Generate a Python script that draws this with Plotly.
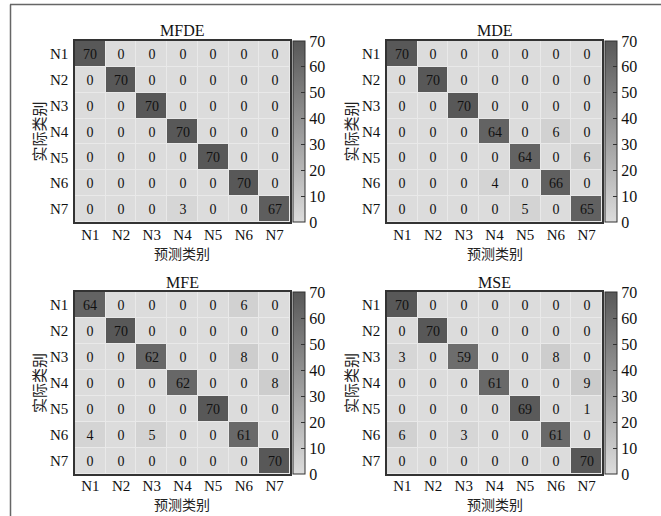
import plotly.graph_objects as go

W, H = 661, 516

labels = ["N1", "N2", "N3", "N4", "N5", "N6", "N7"]

mfde = [
    [70, 0, 0, 0, 0, 0, 0],
    [0, 70, 0, 0, 0, 0, 0],
    [0, 0, 70, 0, 0, 0, 0],
    [0, 0, 0, 70, 0, 0, 0],
    [0, 0, 0, 0, 70, 0, 0],
    [0, 0, 0, 0, 0, 70, 0],
    [0, 0, 0, 3, 0, 0, 67],
]
mde = [
    [70, 0, 0, 0, 0, 0, 0],
    [0, 70, 0, 0, 0, 0, 0],
    [0, 0, 70, 0, 0, 0, 0],
    [0, 0, 0, 64, 0, 6, 0],
    [0, 0, 0, 0, 64, 0, 6],
    [0, 0, 0, 4, 0, 66, 0],
    [0, 0, 0, 0, 5, 0, 65],
]
mfe = [
    [64, 0, 0, 0, 0, 6, 0],
    [0, 70, 0, 0, 0, 0, 0],
    [0, 0, 62, 0, 0, 8, 0],
    [0, 0, 0, 62, 0, 0, 8],
    [0, 0, 0, 0, 70, 0, 0],
    [4, 0, 5, 0, 0, 61, 0],
    [0, 0, 0, 0, 0, 0, 70],
]
mse = [
    [70, 0, 0, 0, 0, 0, 0],
    [0, 70, 0, 0, 0, 0, 0],
    [3, 0, 59, 0, 0, 8, 0],
    [0, 0, 0, 61, 0, 0, 9],
    [0, 0, 0, 0, 69, 0, 1],
    [6, 0, 3, 0, 0, 61, 0],
    [0, 0, 0, 0, 0, 0, 70],
]
titles = ["MFDE", "MDE", "MFE", "MSE"]
matrices = [mfde, mde, mfe, mse]
cbar_ticks = [0, 10, 20, 30, 40, 50, 60, 70]

# pixel boxes (left, right, top, bottom) of each heatmap
boxes = [
    (75, 290, 41, 222),
    (387, 602, 41, 222),
    (75, 290, 292, 474),
    (387, 602, 292, 474),
]

SERIF = "Liberation Serif, Times New Roman, Noto Sans CJK SC, serif"
CJK = "Noto Sans CJK SC, Liberation Serif, serif"
scale = [[0, "rgb(220,220,220)"], [1, "rgb(88,88,88)"]]

fig = go.Figure()
annotations = []
shapes = []

for i, (t, m, (l, r, tp, b)) in enumerate(zip(titles, matrices, boxes)):
    n = "" if i == 0 else str(i + 1)
    bottom_row = i >= 2
    xd = [l / W, r / W]
    yd = [1 - b / H, 1 - tp / H]
    fig.add_trace(go.Heatmap(
        z=m, x=labels, y=labels,
        xaxis="x" + n, yaxis="y" + n,
        colorscale=scale, zmin=0, zmax=70,
        xgap=1, ygap=1,
        texttemplate="%{z}",
        textfont=dict(family=SERIF, size=14, color="#111"),
        hoverinfo="skip",
        colorbar=dict(
            x=(r + 3) / W, xanchor="left", xpad=0,
            y=1 - (tp + b) / 2 / H, yanchor="middle", ypad=0,
            len=(b - tp) / H, lenmode="fraction",
            thickness=12, thicknessmode="pixels",
            outlinewidth=1, outlinecolor="#333",
            tickvals=cbar_ticks, ticks="inside", ticklen=4,
            tickcolor="#333",
            tickfont=dict(family=SERIF, size=16, color="#111"),
        ),
    ))
    ax = dict(
        domain=xd, anchor="y" + n, showgrid=False, zeroline=False,
        showline=True, linecolor="#333", linewidth=1.5, mirror=True,
        ticks="", ticklabelstandoff=(-3 if bottom_row else -2),
        tickfont=dict(family=SERIF, size=15, color="#111"),
        fixedrange=True,
    )
    ay = dict(
        domain=yd, anchor="x" + n, showgrid=False, zeroline=False,
        showline=True, linecolor="#333", linewidth=1.5, mirror=True,
        ticks="outside", ticklen=2, tickcolor="rgba(0,0,0,0)",
        autorange="reversed",
        tickfont=dict(family=SERIF, size=15, color="#111"),
        fixedrange=True,
    )
    fig.layout["xaxis" + n] = ax
    fig.layout["yaxis" + n] = ay

    cx = (l + r) / 2
    annotations.append(dict(
        text=t, x=cx / W, y=1 - (tp - 10) / H, xref="paper", yref="paper",
        xanchor="center", yanchor="middle", showarrow=False,
        font=dict(family=SERIF, size=16, color="#111"),
    ))
    if bottom_row:
        xt_y, xt_anchor = 1 - 515 / H, "bottom"
    else:
        xt_y, xt_anchor = 1 - (b + 20) / H, "top"
    annotations.append(dict(
        text="预测类别", x=cx / W, y=xt_y, xref="paper", yref="paper",
        xanchor="center", yanchor=xt_anchor, showarrow=False, borderpad=0,
        font=dict(family=CJK, size=14, color="#222"),
    ))
    annotations.append(dict(
        text="实际类别", x=(l - 37) / W, y=1 - (tp + b) / 2 / H,
        xref="paper", yref="paper", textangle=-90,
        xanchor="center", yanchor="middle", showarrow=False,
        font=dict(family=CJK, size=15, color="#222"),
    ))

# outer frame lines (top and left)
shapes.append(dict(type="line", xref="paper", yref="paper",
                   x0=10 / W, x1=1, y0=1 - 4.5 / H, y1=1 - 4.5 / H,
                   line=dict(color="#666", width=1.5)))
shapes.append(dict(type="line", xref="paper", yref="paper",
                   x0=10.5 / W, x1=10.5 / W, y0=0, y1=1 - 4.5 / H,
                   line=dict(color="#666", width=1.5)))

fig.update_layout(
    width=W, height=H,
    margin=dict(l=0, r=0, t=0, b=0),
    paper_bgcolor="white", plot_bgcolor="#e9e9e9",
    annotations=annotations, shapes=shapes,
    showlegend=False,
)

fig.write_html("out.html")
